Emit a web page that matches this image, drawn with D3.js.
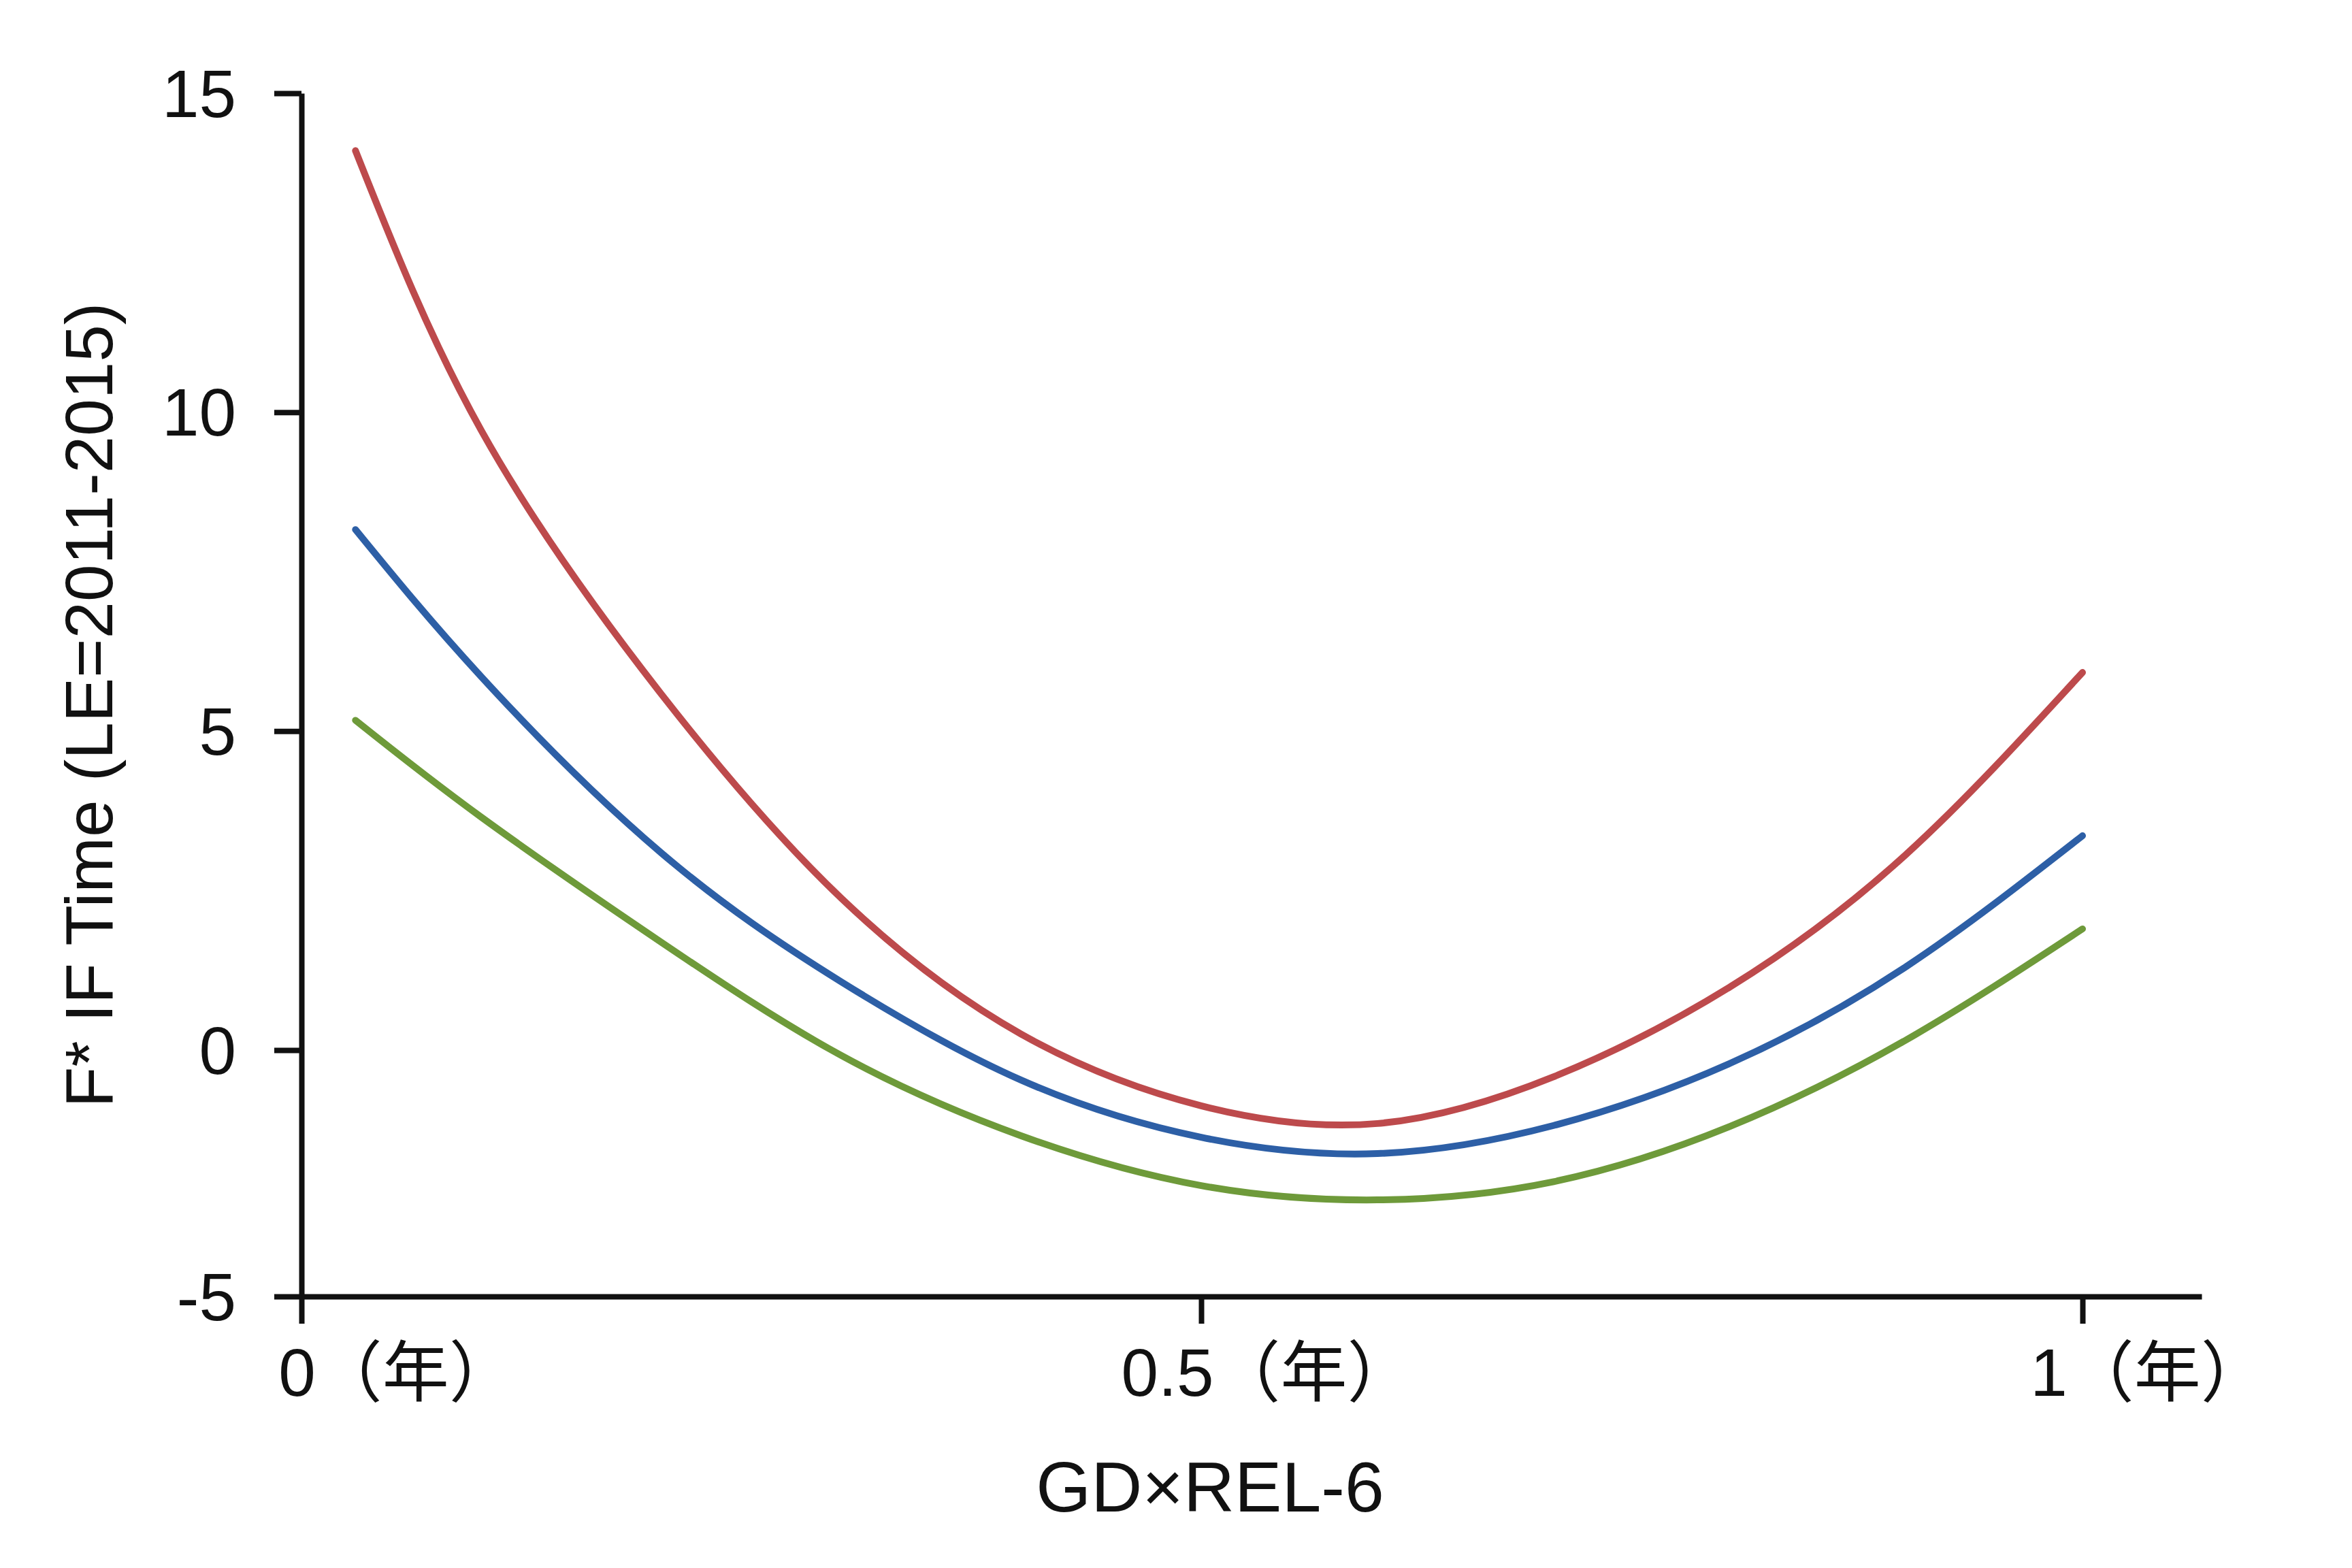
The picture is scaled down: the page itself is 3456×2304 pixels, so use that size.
<html>
<head>
    <meta charset="utf-8">
    <script src="https://d3js.org/d3.v7.min.js"></script>
    <style>
        body { margin: 0; background: #ffffff; }
        text { font-family: "Liberation Sans", Arial, "Noto Sans CJK SC", sans-serif; }
    </style>
</head>

<body>
    <div id="cont">
    </div>

    <script>
        // values
        var xVals = [0.03, 0.10, 0.20, 0.30, 0.40, 0.50, 0.60, 0.70, 0.80, 0.90, 1.00];
        var redVals = [14.10, 9.71, 5.58, 2.38, 0.25, -1.13, -1.49, -0.54, 0.99, 3.07, 5.92];
        var blueVals = [8.16, 5.85, 3.09, 1.07, -0.61, -1.77, -2.10, -1.53, -0.27, 1.31, 3.36];
        var greenVals = [5.17, 3.65, 1.69, -0.11, -1.74, -2.75, -3.04, -2.67, -1.55, 0.16, 1.90];

        var xTicks = [0, 0.5, 1];
        var xTickLabels = ["0（年）", "0.5（年）", "1（年）"];
        var yTicks = [-5, 0, 5, 10, 15];
        var yTickLabels = ["-5", "0", "5", "10", "15"];

        var seriesNames = ["red", "blue", "green"];
        var seriesColors = ["#bd4a4c", "#2d5fa6", "#6e9a3a"];
        var seriesVals = [redVals, blueVals, greenVals];

        var xTitle = "GD×REL-6";
        var yTitle = "F* IF Time (LE=2011-2015)";

        var W = 3456, H = 2304;
        var fontSize = 98;

        var svg = d3.select("#cont").append("svg")
            .attr("width", W)
            .attr("height", H);

        svg.append("rect")
            .attr("width", W)
            .attr("height", H)
            .attr("fill", "#ffffff");

        // the picture's axes are not evenly spaced, so both scales are piecewise
        var x = d3.scaleLinear()
            .domain([0, 0.5, 1, 1.0676])
            .range([443, 1765, 3060, 3235]);

        var y = d3.scaleLinear()
            .domain([-5, 0, 15])
            .range([1905, 1543, 137]);

        // y axis
        var yAxis = d3.axisLeft(y)
            .tickValues(yTicks)
            .tickSize(40)
            .tickSizeOuter(0)
            .tickPadding(56)
            .tickFormat(function(d, i) { return yTickLabels[i]; });

        var gy = svg.append("g")
            .attr("transform", "translate(" + x(0) + ",0)")
            .call(yAxis);

        // x axis
        var xAxis = d3.axisBottom(x)
            .tickValues(xTicks)
            .tickSize(40)
            .tickSizeOuter(0)
            .tickPadding(36)
            .tickFormat(function(d, i) { return xTickLabels[i]; });

        var gx = svg.append("g")
            .attr("transform", "translate(0," + y(-5) + ")")
            .call(xAxis);

        [gx, gy].forEach(function(g) {
            g.selectAll("path, line")
                .attr("stroke", "#111111")
                .attr("stroke-width", 8);
            g.selectAll("text")
                .attr("fill", "#111111")
                .attr("font-size", fontSize)
                .style("font-family", '"Liberation Sans", Arial, "Noto Sans CJK SC", sans-serif');
        });

        // labels sit to the right of their ticks, the first one a bit more
        gx.selectAll(".tick text")
            .attr("dy", "0.71em")
            .attr("dx", function(d, i) { return i === 0 ? 140 : 97; });

        gy.selectAll(".tick text")
            .attr("dy", "0.35em");

        // curves through the read-off points
        var line = d3.line()
            .x(function(d) { return x(d[0]); })
            .y(function(d) { return y(d[1]); })
            .curve(d3.curveNatural);

        seriesVals.forEach(function(vals, k) {
            var pts = xVals.map(function(xv, i) { return [xv, vals[i]]; });
            svg.append("path")
                .attr("class", "curve-" + seriesNames[k])
                .attr("d", line(pts))
                .attr("fill", "none")
                .attr("stroke", seriesColors[k])
                .attr("stroke-width", 10)
                .attr("stroke-linecap", "round")
                .attr("stroke-linejoin", "round");
        });

        // axis titles
        svg.append("text")
            .attr("x", x(0.5) + 13)
            .attr("y", 2221)
            .attr("text-anchor", "middle")
            .attr("font-size", 104)
            .attr("fill", "#111111")
            .text(xTitle);

        svg.append("text")
            .attr("transform", "translate(165,1036) rotate(-90)")
            .attr("text-anchor", "middle")
            .attr("font-size", fontSize)
            .attr("fill", "#111111")
            .text(yTitle);
    </script>
</body>
</html>
